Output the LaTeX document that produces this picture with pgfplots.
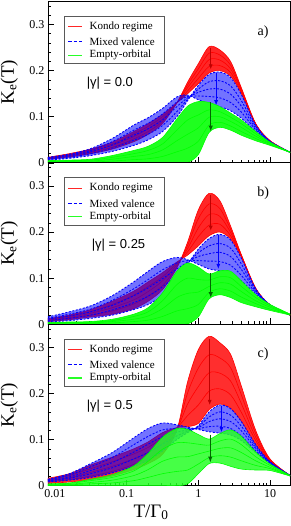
\documentclass[border=0pt]{standalone}
\usepackage{fontspec}
\setmainfont{Liberation Serif}
\newfontfamily\arialfont{Liberation Sans}
\usepackage{pgfplots}
\pgfplotsset{compat=1.18}
\usepackage{pgfplotstable}
\usetikzlibrary{arrows.meta}

% curves: r = Kondo regime, b = mixed valence, g = empty orbital
\pgfplotstableread{
T r0 r1 r2 r3 r4 b0 b1 b2 b3 b4 g0 g1 g2 g3 g4
0.00794 .008 .009 .010 .011 .012 .006 .008 .009 .011 .012 .005 .004 .003 .001 0
0.01585 .013 .015 .017 .018 .020 .010 .012 .015 .017 .019 .006 .005 .003 .002 0
0.03162 .020 .023 .025 .028 .030 .016 .020 .024 .027 .031 .008 .006 .004 .002 0
0.0631 .030 .034 .038 .041 .045 .025 .032 .039 .046 .053 .016 .012 .008 .004 0
0.1259 .046 .052 .057 .063 .068 .038 .049 .060 .071 .082 .027 .020 .014 .007 0
0.1995 .062 .068 .074 .079 .085 .050 .062 .074 .086 .098 .036 .027 .018 .009 0
0.3162 .085 .090 .095 .100 .105 .068 .081 .093 .106 .118 .055 .041 .028 .014 0
0.5012 .130 .130 .130 .130 .130 .100 .111 .122 .132 .143 .095 .071 .048 .024 0
0.7079 .175 .169 .163 .156 .150 .135 .138 .141 .144 .147 .123 .093 .062 .032 .001
1 .215 .204 .194 .183 .172 .168 .160 .153 .145 .137 .133 .104 .076 .047 .018
1.413 .252 .238 .224 .209 .195 .192 .176 .160 .144 .128 .131 .115 .099 .082 .066
1.995 .245 .234 .223 .211 .200 .197 .178 .160 .141 .122 .122 .111 .100 .088 .077
2.818 .220 .212 .204 .196 .188 .185 .167 .149 .131 .113 .108 .099 .090 .080 .071
3.981 .163 .160 .157 .153 .150 .148 .135 .123 .110 .097 .093 .085 .077 .068 .060
6.31 .085 .085 .084 .084 .083 .082 .079 .075 .072 .068 .068 .063 .058 .053 .048
10 .048 .048 .048 .047 .047 .047 .046 .046 .045 .044 .045 .043 .042 .040 .038
19.05 .023 .023 .023 .023 .023 .023 .023 .023 .023 .023 .023 .023 .023 .023 .023
}\tA
% band outlines (first curve forward, last curve backward)
\pgfplotstableread{
T rp bp gp
0.00794 .008 .006 .005
0.01585 .013 .010 .006
0.03162 .020 .016 .008
0.0631 .030 .025 .016
0.1259 .046 .038 .027
0.1995 .062 .050 .036
0.3162 .085 .068 .055
0.5012 .130 .100 .095
0.7079 .175 .135 .123
1 .215 .168 .133
1.413 .252 .192 .131
1.995 .245 .197 .122
2.818 .220 .185 .108
3.981 .163 .148 .093
6.31 .085 .082 .068
10 .048 .047 .045
19.05 .023 .023 .023
10 .047 .044 .038
6.31 .083 .068 .048
3.981 .150 .097 .060
2.818 .188 .113 .071
1.995 .200 .122 .077
1.413 .195 .128 .066
1 .172 .137 .018
0.7079 .150 .147 .001
0.5012 .130 .143 0
0.3162 .105 .118 0
0.1995 .085 .098 0
0.1259 .068 .082 0
0.0631 .045 .053 0
0.03162 .030 .031 0
0.01585 .020 .019 0
0.00794 .012 .012 0
}\pA

\pgfplotstableread{
T r0 r1 r2 r3 r4 b0 b1 b2 b3 b4 g0 g1 g2 g3 g4
0.00794 .006 .008 .009 .011 .012 .005 .008 .011 .013 .016 .004 .003 .002 .001 0
0.01585 .010 .013 .015 .018 .020 .008 .013 .018 .022 .027 .005 .004 .003 .001 0
0.03162 .016 .020 .024 .028 .032 .013 .020 .027 .033 .040 .006 .005 .003 .002 0
0.0631 .022 .029 .036 .043 .050 .020 .031 .041 .052 .062 .011 .008 .006 .003 0
0.1259 .034 .044 .053 .063 .072 .032 .047 .062 .077 .092 .022 .017 .011 .006 0
0.1995 .050 .061 .071 .082 .092 .043 .061 .079 .097 .115 .036 .027 .018 .009 0
0.3162 .075 .084 .094 .103 .112 .062 .081 .099 .118 .136 .068 .051 .034 .017 0
0.5012 .122 .125 .129 .132 .135 .095 .108 .120 .133 .145 .115 .086 .058 .029 0
0.7079 .178 .171 .164 .157 .150 .130 .133 .135 .138 .140 .133 .100 .067 .034 .001
1 .248 .229 .209 .190 .170 .163 .155 .147 .138 .130 .124 .097 .070 .043 .016
1.413 .284 .261 .238 .215 .192 .186 .170 .153 .137 .120 .109 .096 .082 .069 .055
1.995 .268 .251 .234 .217 .200 .195 .175 .156 .136 .116 .116 .103 .090 .077 .064
2.818 .213 .206 .199 .192 .185 .183 .165 .147 .128 .110 .115 .101 .087 .072 .058
3.981 .151 .150 .148 .147 .145 .143 .131 .119 .106 .094 .094 .082 .071 .059 .047
6.31 .078 .078 .078 .077 .077 .077 .074 .072 .069 .066 .064 .058 .051 .045 .038
10 .042 .042 .042 .042 .042 .042 .042 .042 .042 .042 .043 .040 .037 .033 .030
19.05 .020 .020 .020 .020 .020 .020 .020 .020 .020 .020 .022 .022 .021 .021 .020
}\tB
\pgfplotstableread{
T rp bp gp
0.00794 .006 .005 .004
0.01585 .010 .008 .005
0.03162 .016 .013 .006
0.0631 .022 .020 .011
0.1259 .034 .032 .022
0.1995 .050 .043 .036
0.3162 .075 .062 .068
0.5012 .122 .095 .115
0.7079 .178 .130 .133
1 .248 .163 .124
1.413 .284 .186 .109
1.995 .268 .195 .116
2.818 .213 .183 .115
3.981 .151 .143 .094
6.31 .078 .077 .064
10 .042 .042 .043
19.05 .020 .020 .022
10 .042 .042 .030
6.31 .077 .066 .038
3.981 .145 .094 .047
2.818 .185 .110 .058
1.995 .200 .116 .064
1.413 .192 .120 .055
1 .170 .130 .016
0.7079 .150 .140 .001
0.5012 .135 .145 0
0.3162 .112 .136 0
0.1995 .092 .115 0
0.1259 .072 .092 0
0.0631 .050 .062 0
0.03162 .032 .040 0
0.01585 .020 .027 0
0.00794 .012 .016 0
}\pB

\pgfplotstableread{
T r0 r1 r2 r3 r4 b0 b1 b2 b3 b4 g0 g1 g2 g3 g4
0.00794 .005 .008 .011 .013 .016 .008 .010 .011 .013 .014 .004 .003 .002 .001 0
0.01585 .008 .013 .017 .022 .026 .012 .016 .019 .023 .026 .006 .005 .003 .002 0
0.03162 .013 .021 .029 .037 .045 .018 .026 .033 .041 .048 .014 .011 .007 .004 0
0.0631 .021 .031 .042 .052 .062 .028 .039 .050 .061 .072 .024 .018 .012 .006 0
0.1259 .035 .046 .058 .069 .080 .042 .058 .073 .089 .104 .043 .032 .022 .011 0
0.1995 .048 .060 .072 .083 .095 .055 .072 .090 .107 .124 .070 .053 .035 .018 0
0.3162 .068 .080 .092 .103 .115 .075 .090 .106 .121 .136 .105 .079 .053 .026 0
0.5012 .120 .122 .123 .125 .126 .100 .108 .116 .124 .132 .124 .093 .062 .031 0
0.7079 .225 .201 .177 .152 .128 .115 .118 .121 .124 .127 .122 .093 .063 .034 .004
1 .295 .255 .215 .175 .135 .130 .128 .126 .124 .122 .111 .090 .069 .047 .026
1.413 .324 .284 .245 .205 .165 .160 .149 .139 .128 .117 .101 .088 .075 .061 .048
1.995 .310 .277 .244 .210 .177 .175 .160 .145 .129 .114 .113 .097 .081 .065 .049
2.818 .285 .256 .227 .197 .168 .167 .153 .139 .124 .110 .121 .101 .082 .062 .042
3.981 .216 .197 .178 .159 .140 .139 .129 .119 .108 .098 .107 .089 .072 .054 .036
6.31 .120 .113 .105 .098 .090 .089 .085 .081 .076 .072 .073 .063 .054 .044 .034
10 .058 .057 .055 .054 .052 .052 .051 .050 .049 .048 .047 .044 .040 .037 .033
19.05 .022 .022 .022 .022 .022 .022 .022 .022 .022 .022 .022 .022 .022 .021 .021
}\tC
\pgfplotstableread{
T rp bp gp
0.00794 .005 .008 .004
0.01585 .008 .012 .006
0.03162 .013 .018 .014
0.0631 .021 .028 .024
0.1259 .035 .042 .043
0.1995 .048 .055 .070
0.3162 .068 .075 .105
0.5012 .120 .100 .124
0.7079 .225 .115 .122
1 .295 .130 .111
1.413 .324 .160 .101
1.995 .310 .175 .113
2.818 .285 .167 .121
3.981 .216 .139 .107
6.31 .120 .089 .073
10 .058 .052 .047
19.05 .022 .022 .022
10 .052 .048 .033
6.31 .090 .072 .034
3.981 .140 .098 .036
2.818 .168 .110 .042
1.995 .177 .114 .049
1.413 .165 .117 .048
1 .135 .122 .026
0.7079 .128 .127 .004
0.5012 .126 .132 0
0.3162 .115 .136 0
0.1995 .095 .124 0
0.1259 .080 .104 0
0.0631 .062 .072 0
0.03162 .045 .048 0
0.01585 .026 .026 0
0.00794 .016 .014 0
}\pC

\pgfplotsset{
  every axis/.append style={
    width=242pt, height=161.4pt, scale only axis,
    xmin=0.008, xmax=19, ymin=0, ymax=0.35,
    xtick={0.01,0.1,1,10},
    minor xtick={0.008,0.009,0.02,0.03,0.04,0.05,0.06,0.07,0.08,0.09,0.2,0.3,0.4,0.5,0.6,0.7,0.8,0.9,2,3,4,5,6,7,8,9},
    ytick={0,0.1,0.2,0.3}, yticklabels={0,0.1,0.2,0.3},
    minor ytick={0.02,0.04,0.06,0.08,0.12,0.14,0.16,0.18,0.22,0.24,0.26,0.28,0.32,0.34},
    tick align=inside, tick pos=left,
    major tick length=6pt, minor tick length=3pt,
    every tick/.append style={draw=black, line width=0.6pt},
    axis line style={draw=black, line width=0.8pt},
    tick label style={font=\fontsize{12}{14}\selectfont},
    ylabel={K\textsubscript{e}(T)},
    ylabel style={at={(axis description cs:-0.16,0.5)}, anchor=center, font=\fontsize{19}{22}\selectfont},
  },
}
\tikzset{
  redl/.style={draw=red, line width=0.6pt, smooth},
  bluel/.style={draw=blue, line width=0.9pt, smooth, dash pattern=on 2pt off 1.6pt},
  greenl/.style={draw=green, line width=0.6pt, smooth},
  bluefill/.style={fill=blue, fill opacity=0.55, draw=none, smooth},
  arrR/.style={-{Latex[length=5pt,width=4pt]}, line width=0.8pt, draw=red!75!black, fill=red!75!black},
  arrB/.style={-{Latex[length=5pt,width=4pt]}, line width=0.8pt, draw=blue, fill=blue},
  arrG/.style={-{Latex[length=6pt,width=4.5pt]}, line width=1.2pt, draw=green!40!black, fill=green!40!black},
}

% hand-made legend box (drawn inside each axis, on top of the curves)
\newcommand{\mylegend}{%
  \draw[draw=black!65, line width=0.6pt, fill=white] (rel axis cs:0.066,0.615) rectangle (rel axis cs:0.479,0.908);
  \draw[draw=red!85, line width=1.3pt] (rel axis cs:0.083,0.843) -- (rel axis cs:0.14,0.843);
  \draw[draw=blue, line width=1.3pt, dash pattern=on 3.5pt off 2pt] (rel axis cs:0.083,0.750) -- (rel axis cs:0.14,0.750);
  \draw[draw=green!85, line width=1.3pt] (rel axis cs:0.083,0.667) -- (rel axis cs:0.14,0.667);
  \node[anchor=west, inner sep=0pt, font=\fontsize{11}{13}\selectfont] at (rel axis cs:0.171,0.843) {Kondo regime};
  \node[anchor=west, inner sep=0pt, font=\fontsize{11}{13}\selectfont] at (rel axis cs:0.171,0.750) {Mixed valence};
  \node[anchor=west, inner sep=0pt, font=\fontsize{11}{13}\selectfont] at (rel axis cs:0.171,0.667) {Empty-orbital};
}

\begin{document}
\begin{tikzpicture}

% ---------- panel a ----------
\begin{semilogxaxis}[at={(0,322.8pt)}, anchor=south west, xticklabels={}]
\addplot[fill=red!85, draw=none, smooth] table[x=T,y=rp]{\pA} -- cycle;
\pgfplotsinvokeforeach{r0,r1,r2,r3,r4}{\addplot[redl] table[x=T,y=#1]{\tA};}
\addplot[bluefill] table[x=T,y=bp]{\pA} -- cycle;
\pgfplotsinvokeforeach{b0,b1,b2,b3,b4}{\addplot[bluel] table[x=T,y=#1]{\tA};}
\addplot[fill=green!88, draw=none, smooth] table[x=T,y=gp]{\pA} -- cycle;
\pgfplotsinvokeforeach{g0,g1,g2,g3,g4}{\addplot[greenl] table[x=T,y=#1]{\tA};}
\addplot[arrR] coordinates {(1.49,0.250) (1.49,0.203)};
\addplot[arrB] coordinates {(1.77,0.196) (1.77,0.125)};
\addplot[arrG] coordinates {(1.49,0.131) (1.49,0.068)};
\node[anchor=west, font=\arialfont\fontsize{13}{15}\selectfont] at (axis cs:0.0248,0.172) {|γ| = 0.0};
\node[font=\fontsize{14}{16}\selectfont] at (axis cs:8,0.283) {a)};
\mylegend
\end{semilogxaxis}

% ---------- panel b ----------
\begin{semilogxaxis}[at={(0,161.4pt)}, anchor=south west, xticklabels={}]
\addplot[fill=red!85, draw=none, smooth] table[x=T,y=rp]{\pB} -- cycle;
\pgfplotsinvokeforeach{r0,r1,r2,r3,r4}{\addplot[redl] table[x=T,y=#1]{\tB};}
\addplot[bluefill] table[x=T,y=bp]{\pB} -- cycle;
\pgfplotsinvokeforeach{b0,b1,b2,b3,b4}{\addplot[bluel] table[x=T,y=#1]{\tB};}
\addplot[fill=green!88, draw=none, smooth] table[x=T,y=gp]{\pB} -- cycle;
\pgfplotsinvokeforeach{g0,g1,g2,g3,g4}{\addplot[greenl] table[x=T,y=#1]{\tB};}
\addplot[arrR] coordinates {(1.49,0.280) (1.49,0.203)};
\addplot[arrB] coordinates {(1.9,0.193) (1.9,0.120)};
\addplot[arrG] coordinates {(1.49,0.111) (1.49,0.057)};
\node[anchor=west, font=\arialfont\fontsize{13}{15}\selectfont] at (axis cs:0.0292,0.171) {|γ| = 0.25};
\node[font=\fontsize{14}{16}\selectfont] at (axis cs:8,0.284) {b)};
\mylegend
\end{semilogxaxis}

% ---------- panel c ----------
\begin{semilogxaxis}[at={(0,0pt)}, anchor=south west,
  xticklabels={0.01,0.1,1,10},
  xlabel={T/Γ\textsubscript{0}},
  xlabel style={at={(axis description cs:0.426,-0.194)}, anchor=base, font=\fontsize{19}{22}\selectfont}]
\addplot[fill=red!82, draw=none, smooth] table[x=T,y=rp]{\pC} -- cycle;
\pgfplotsinvokeforeach{r0,r1,r2,r3,r4}{\addplot[redl] table[x=T,y=#1]{\tC};}
\addplot[bluefill] table[x=T,y=bp]{\pC} -- cycle;
\pgfplotsinvokeforeach{b0,b1,b2,b3,b4}{\addplot[bluel] table[x=T,y=#1]{\tC};}
\addplot[fill=green!85, fill opacity=0.85, draw=none, smooth] table[x=T,y=gp]{\pC} -- cycle;
\pgfplotsinvokeforeach{g0,g1,g2,g3,g4}{\addplot[greenl] table[x=T,y=#1]{\tC};}
\addplot[arrR] coordinates {(1.44,0.318) (1.44,0.175)};
\addplot[arrB] coordinates {(2.1,0.172) (2.1,0.116)};
\addplot[arrG] coordinates {(1.47,0.110) (1.47,0.050)};
\node[anchor=west, font=\arialfont\fontsize{13}{15}\selectfont] at (axis cs:0.0248,0.172) {|γ| = 0.5};
\node[font=\fontsize{14}{16}\selectfont] at (axis cs:8,0.285) {c)};
\mylegend
\end{semilogxaxis}
\pgfresetboundingbox
\path[use as bounding box] (-48pt,-40.3pt) rectangle (243pt,485.7pt);
\end{tikzpicture}
\end{document}
